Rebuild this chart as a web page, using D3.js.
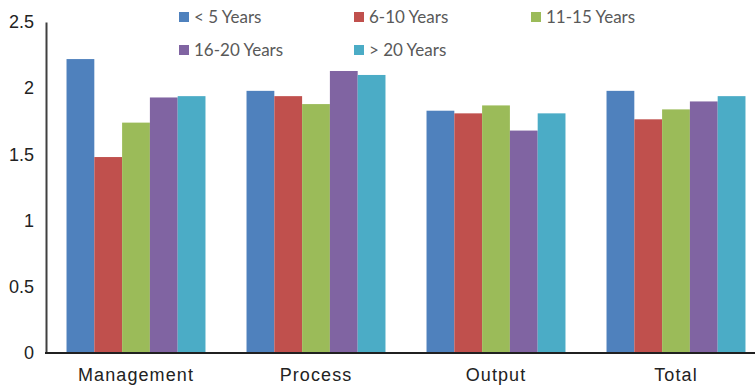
<!DOCTYPE html>
<html>
<head>
<meta charset="utf-8">
<script src="https://cdn.jsdelivr.net/npm/d3@7"></script>
<style>
  html, body { margin: 0; padding: 0; background: #fff; }
  svg { display: block; }
</style>
</head>
<body>
<svg id="chart" width="755" height="385"></svg>
<script>
// Mean scores by area and years of experience
const categories = ["Management", "Process", "Output", "Total"];
const seriesNames = ["< 5 Years", "6-10 Years", "11-15 Years", "16-20 Years", "> 20 Years"];
const lessThan5 = [2.22, 1.98, 1.83, 1.98];
const years6to10 = [1.48, 1.94, 1.81, 1.765];
const years11to15 = [1.74, 1.88, 1.87, 1.84];
const years16to20 = [1.93, 2.13, 1.68, 1.90];
const moreThan20 = [1.94, 2.10, 1.81, 1.94];
const yTicks = [0, 0.5, 1, 1.5, 2, 2.5];
const colors = ["#4F81BD", "#C0504D", "#9BBB59", "#8064A2", "#4BACC6"];

const seriesValues = [lessThan5, years6to10, years11to15, years16to20, moreThan20];
const rows = categories.map((c, i) => ({
  category: c,
  values: seriesNames.map((s, j) => ({ key: s, value: seriesValues[j][i] }))
}));

const svg = d3.select("#chart");
const plotLeft = 46, plotRight = 766, plotTop = 22, plotBottom = 353;

const x = d3.scaleBand().domain(categories).range([plotLeft, plotRight])
  .paddingInner(0.228).paddingOuter(0.114);
const xs = d3.scaleBand().domain(seriesNames).range([0, x.bandwidth()]);
const y = d3.scaleLinear().domain([0, 2.5]).range([plotBottom, plotTop]);
const color = d3.scaleOrdinal().domain(seriesNames).range(colors);

// bars
svg.append("g").selectAll("g").data(rows).join("g")
  .attr("transform", d => `translate(${x(d.category)},0)`)
  .selectAll("rect").data(d => d.values).join("rect")
  .attr("x", d => xs(d.key))
  .attr("width", xs.bandwidth())
  .attr("y", d => y(d.value))
  .attr("height", d => y(0) - y(d.value))
  .attr("fill", d => color(d.key));

// y axis
const yAxis = svg.append("g")
  .attr("transform", `translate(${plotLeft},0)`)
  .call(d3.axisLeft(y).tickValues(yTicks).tickSize(0).tickPadding(12).tickFormat(d3.format("")));
yAxis.select(".domain").attr("stroke", "#404040").attr("stroke-width", 2);
yAxis.selectAll("text")
  .attr("font-family", "Liberation Sans, Arial, sans-serif")
  .attr("font-size", 18)
  .attr("fill", "#222");

// x axis
const xAxis = svg.append("g")
  .attr("transform", `translate(0,${plotBottom})`)
  .call(d3.axisBottom(x).tickSize(0).tickPadding(15));
xAxis.select(".domain").remove();
svg.append("line")
  .attr("x1", plotLeft - 1).attr("x2", 755)
  .attr("y1", plotBottom).attr("y2", plotBottom)
  .attr("stroke", "#202020").attr("stroke-width", 2);
xAxis.selectAll("text")
  .attr("font-family", "Liberation Sans, Arial, sans-serif")
  .attr("font-size", 18)
  .attr("letter-spacing", "1.1px")
  .attr("fill", "#222");

// legend
const legendPos = [
  { x: 179, y: 17 }, { x: 354, y: 17 }, { x: 531, y: 17 },
  { x: 179, y: 50 }, { x: 354, y: 50 }
];
const legend = svg.append("g").selectAll("g").data(seriesNames).join("g")
  .attr("transform", (d, i) => `translate(${legendPos[i].x},${legendPos[i].y})`);
legend.append("rect")
  .attr("x", 0).attr("y", -5).attr("width", 10).attr("height", 10)
  .attr("fill", d => color(d));
legend.append("text")
  .attr("x", 15).attr("y", 0).attr("dy", "0.35em")
  .attr("font-family", "Lato, sans-serif")
  .attr("font-size", 17)
  .attr("fill", "#595959")
  .text(d => d);
</script>
</body>
</html>
